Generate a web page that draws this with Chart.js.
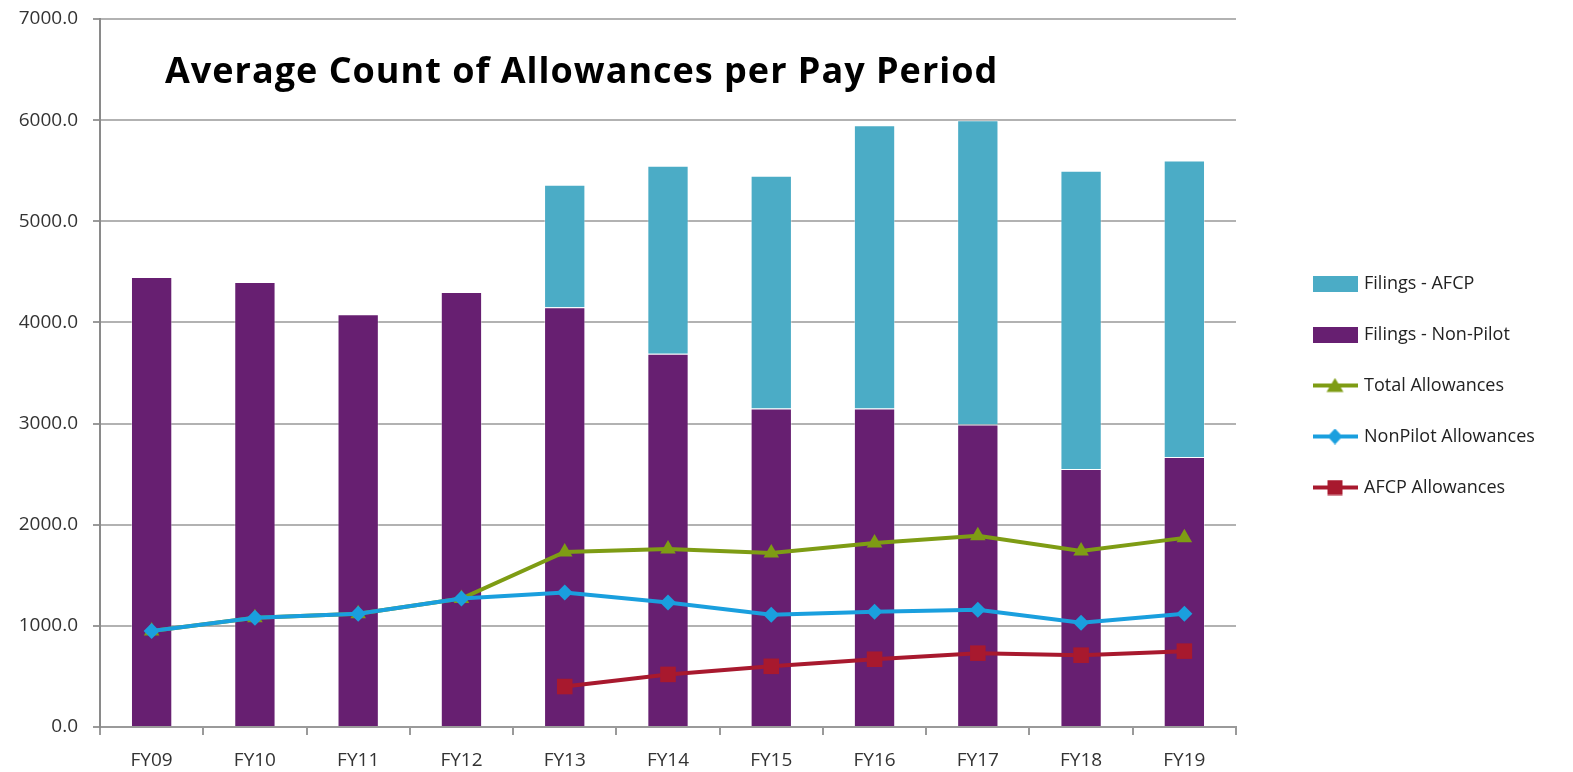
<!DOCTYPE html>
<html>
<head>
<meta charset="utf-8">
<title>Average Count of Allowances per Pay Period</title>
<script src="https://cdn.jsdelivr.net/npm/chart.js@4.4.1/dist/chart.umd.min.js"></script>
<style>
  html, body { margin: 0; padding: 0; background: #ffffff; }
  #wrap { width: 1573px; height: 772px; }
</style>
</head>
<body>
<div id="wrap"><canvas id="chart" width="1573" height="772"></canvas></div>
<script>
// Fiscal years on the x axis
const categories = ['FY09', 'FY10', 'FY11', 'FY12', 'FY13', 'FY14', 'FY15', 'FY16', 'FY17', 'FY18', 'FY19'];

// Stacked filings (bars)
const filingsNonPilot = [4450, 4400, 4080, 4300, 4150, 3690, 3150, 3150, 2990, 2550, 2670];
const filingsAfcp     = [null, null, null, null, 1210, 1860, 2300, 2800, 3010, 2950, 2930];

// Allowances (lines)
const totalAllowances    = [950, 1080, 1120, 1270, 1730, 1760, 1720, 1820, 1890, 1740, 1870];
const nonPilotAllowances = [950, 1080, 1120, 1270, 1330, 1230, 1110, 1140, 1160, 1030, 1120];
const afcpAllowances     = [null, null, null, null, 400, 520, 600, 670, 730, 710, 750];

// Value axis
const yMin = 0;
const yMax = 7000;
const yStep = 1000;

const chartTitle = 'Average Count of Allowances per Pay Period';

const COLORS = {
  afcpBar: '#4BACC6',
  nonPilotBar: '#671F71',
  total: '#7E9C14',
  nonPilot: '#1A9FDE',
  afcp: '#A8192E'
};

Chart.defaults.font.family = '"Open Sans", "Noto Sans", sans-serif';
Chart.defaults.font.size = 19;
Chart.defaults.color = '#333333';

// Small legend swatches: a filled box for bars, a line with its marker for lines
function makeSwatch(kind, color) {
  const c = document.createElement('canvas');
  c.width = 45; c.height = 16;
  const g = c.getContext('2d');
  g.fillStyle = color;
  g.strokeStyle = color;
  if (kind === 'box') {
    g.fillRect(0, 0, 45, 16);
    return c;
  }
  g.lineWidth = 4;
  g.beginPath(); g.moveTo(0, 8); g.lineTo(45, 8); g.stroke();
  g.beginPath();
  if (kind === 'triangle') {
    g.moveTo(22.5, 0.5); g.lineTo(31, 14.5); g.lineTo(14, 14.5);
  } else if (kind === 'diamond') {
    g.moveTo(22.5, 0); g.lineTo(30, 8); g.lineTo(22.5, 16); g.lineTo(15, 8);
  } else {
    g.rect(15, 0.5, 15, 15);
  }
  g.closePath(); g.fill();
  return c;
}

const swatches = {
  afcpBar: makeSwatch('box', COLORS.afcpBar),
  nonPilotBar: makeSwatch('box', COLORS.nonPilotBar),
  total: makeSwatch('triangle', COLORS.total),
  nonPilot: makeSwatch('diamond', COLORS.nonPilot),
  afcp: makeSwatch('square', COLORS.afcp)
};

// Legend sits well to the right of the plot, with its own width
const LEGEND_WIDTH = 337;
const LEGEND_DX = 46;
const LEGEND_DY = -10;

const legendPlacement = {
  id: 'legendPlacement',
  afterInit(chart) {
    const lg = chart.legend;
    const fit = lg.fit.bind(lg);
    lg.fit = function () {
      fit();
      if (this.options.display) this.width = LEGEND_WIDTH;
    };
    const draw = lg.draw.bind(lg);
    lg.draw = function () {
      this.left += LEGEND_DX; this.top += LEGEND_DY; this.bottom += LEGEND_DY;
      draw();
      this.left -= LEGEND_DX; this.top -= LEGEND_DY; this.bottom -= LEGEND_DY;
    };
  }
};

// Title drawn inside the plot area, top left
const plotTitle = {
  id: 'plotTitle',
  afterDraw(chart) {
    const { ctx, chartArea } = chart;
    ctx.save();
    ctx.font = 'bold 36px "Open Sans", "Noto Sans", sans-serif';
    if ('letterSpacing' in ctx) ctx.letterSpacing = '1px';
    ctx.fillStyle = '#000000';
    ctx.textAlign = 'left';
    ctx.textBaseline = 'alphabetic';
    ctx.fillText(chartTitle, chartArea.left + 65, chartArea.top + 64);
    ctx.restore();
  }
};

const ctx = document.getElementById('chart').getContext('2d');
new Chart(ctx, {
  type: 'bar',
  data: {
    labels: categories,
    datasets: [
      {
        label: 'Filings - Non-Pilot',
        data: filingsNonPilot,
        backgroundColor: COLORS.nonPilotBar,
        borderColor: 'rgba(255,255,255,0.35)',
        borderWidth: 1,
        stack: 'filings',
        order: 10,
        swatch: swatches.nonPilotBar
      },
      {
        label: 'Filings - AFCP',
        data: filingsAfcp,
        backgroundColor: COLORS.afcpBar,
        borderColor: 'rgba(255,255,255,0.35)',
        borderWidth: 1,
        stack: 'filings',
        order: 10,
        swatch: swatches.afcpBar
      },
      {
        type: 'line',
        label: 'Total Allowances',
        data: totalAllowances,
        borderColor: COLORS.total,
        backgroundColor: COLORS.total,
        borderWidth: 4,
        tension: 0,
        pointStyle: 'triangle',
        pointRadius: 9,
        pointBorderWidth: 0,
        pointBackgroundColor: COLORS.total,
        stack: 'total',
        order: 3,
        swatch: swatches.total
      },
      {
        type: 'line',
        label: 'NonPilot Allowances',
        data: nonPilotAllowances,
        borderColor: COLORS.nonPilot,
        backgroundColor: COLORS.nonPilot,
        borderWidth: 4,
        tension: 0,
        pointStyle: 'rectRot',
        pointRadius: 8,
        pointBorderWidth: 0,
        pointBackgroundColor: COLORS.nonPilot,
        stack: 'nonpilot',
        order: 2,
        swatch: swatches.nonPilot
      },
      {
        type: 'line',
        label: 'AFCP Allowances',
        data: afcpAllowances,
        borderColor: COLORS.afcp,
        backgroundColor: COLORS.afcp,
        borderWidth: 4,
        tension: 0,
        pointStyle: 'rect',
        pointRadius: 11,
        pointBorderWidth: 0,
        pointBackgroundColor: COLORS.afcp,
        stack: 'afcp',
        order: 1,
        swatch: swatches.afcp
      }
    ]
  },
  options: {
    responsive: false,
    animation: false,
    devicePixelRatio: 1,
    layout: { padding: { top: 19, right: 0, bottom: 0, left: 0 } },
    datasets: {
      bar: { categoryPercentage: 1.0, barPercentage: 0.4 }
    },
    scales: {
      x: {
        stacked: true,
        offset: true,
        border: { color: '#9a9a9a', width: 2 },
        grid: {
          offset: true,
          drawOnChartArea: false,
          drawTicks: true,
          tickLength: 8,
          color: '#9a9a9a',
          lineWidth: 2
        },
        ticks: { padding: 14, color: '#333333', font: { size: 19 }, maxRotation: 0 },
        afterFit(scale) {
          scale.height = 45;
          scale.paddingLeft = 0;
          scale.paddingRight = 0;
        }
      },
      y: {
        stacked: true,
        min: yMin,
        max: yMax,
        border: { color: '#8a8a8a', width: 2 },
        grid: {
          color: '#b2b2b2',
          lineWidth: 2,
          tickLength: 7,
          tickColor: '#9a9a9a'
        },
        ticks: {
          stepSize: yStep,
          padding: 15,
          color: '#333333',
          font: { size: 19 },
          callback: (v) => Number(v).toFixed(1)
        },
        afterFit(scale) {
          scale.width = 100;
          scale.paddingTop = 0;
          scale.paddingBottom = 0;
        }
      }
    },
    plugins: {
      title: { display: false },
      tooltip: { enabled: false },
      legend: {
        display: true,
        position: 'right',
        align: 'center',
        labels: {
          usePointStyle: true,
          pointStyleWidth: 40,
          padding: 33,
          color: '#222222',
          font: { size: 18 },
          generateLabels(chart) {
            const orderIdx = [1, 0, 2, 3, 4];
            return orderIdx.map((i) => {
              const ds = chart.data.datasets[i];
              return {
                text: ds.label,
                datasetIndex: i,
                pointStyle: ds.swatch,
                fillStyle: ds.backgroundColor,
                strokeStyle: ds.borderColor,
                lineWidth: 0,
                hidden: !chart.isDatasetVisible(i),
                fontColor: '#222222'
              };
            });
          }
        }
      }
    }
  },
  plugins: [legendPlacement, plotTitle]
});
</script>
</body>
</html>
